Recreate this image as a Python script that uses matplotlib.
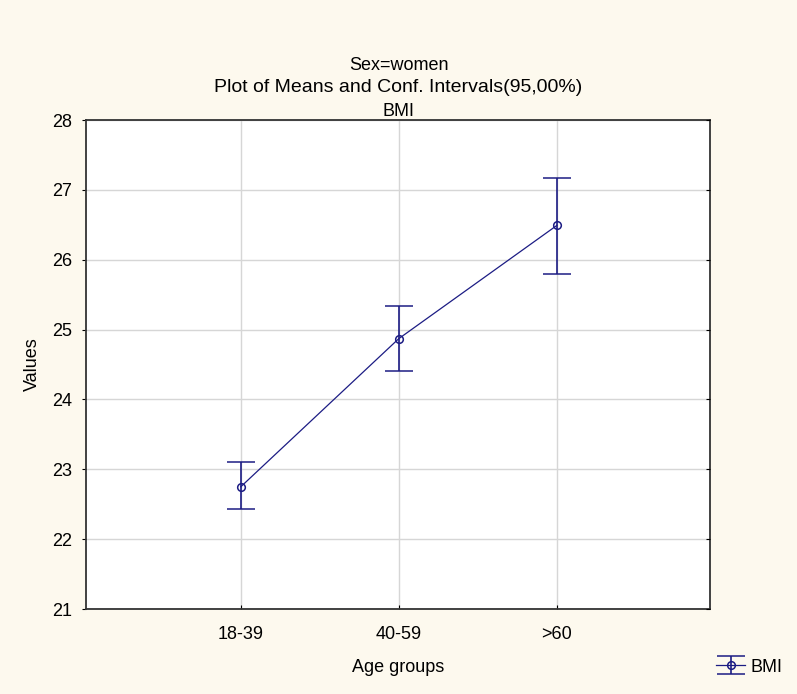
import matplotlib.pyplot as plt

# data
groups = ['18-39', '40-59', '>60']
means = [22.75, 24.87, 26.49]
upper = [23.10, 25.34, 27.17]
lower = [22.43, 24.41, 25.79]

plt.rcParams['font.family'] = ['Liberation Sans', 'DejaVu Sans']

navy = '#1c1c84'
bg = '#fdf9ee'

fig = plt.figure(figsize=(7.97, 6.94), dpi=100, facecolor=bg)
ax = fig.add_axes([86/797, 1-609/694, (710-86)/797, (609-120)/694])
ax.set_facecolor('white')

x = list(range(len(groups)))
err_lo = [m - l for m, l in zip(means, lower)]
err_hi = [u - m for m, u in zip(means, upper)]
ax.errorbar(x, means, yerr=[err_lo, err_hi], color=navy, lw=0.9, marker='o',
            mfc='none', mec=navy, ms=5.5, mew=1.1, capsize=10, capthick=1.2,
            elinewidth=1.2, label='BMI', zorder=3)

ax.set_xlim(-0.98, 2.97)
ax.set_ylim(21, 28)
ax.set_xticks(x)
ax.set_xticklabels(groups)
ax.set_yticks(range(21, 29))
ax.grid(True, color='#d6d6d6', lw=1)
ax.set_axisbelow(True)
for s in ax.spines.values():
    s.set_color('#333333')
    s.set_linewidth(1.3)
ax.tick_params(axis='y', direction='out', length=3, labelsize=13, pad=7)
ax.tick_params(axis='x', direction='in', length=3, labelsize=13, pad=12)

# small inward ticks on the right edge
ax2 = ax.twinx()
ax2.set_ylim(21, 28)
ax2.set_yticks(range(21, 29))
ax2.tick_params(axis='y', direction='in', length=3, labelright=False)
for s in ax2.spines.values():
    s.set_visible(False)

ax.set_ylabel('Values', fontsize=13, labelpad=8)
ax.set_xlabel('Age groups', fontsize=13, labelpad=12)

fig.text(0.5, 1-65/694, 'Sex=women', ha='center', va='center', fontsize=13)
fig.text(0.5, 1-88/694, 'Plot of Means and Conf. Intervals(95,00%)', ha='center', va='center', fontsize=14)
fig.text(0.5, 1-112/694, 'BMI', ha='center', va='center', fontsize=13)

leg = fig.legend(loc='center left', bbox_to_anchor=(700/797, 1-667/694), frameon=False,
                 fontsize=13, handlelength=1.6, handletextpad=0.3)

fig.savefig('out.png', dpi=100, facecolor=bg)
